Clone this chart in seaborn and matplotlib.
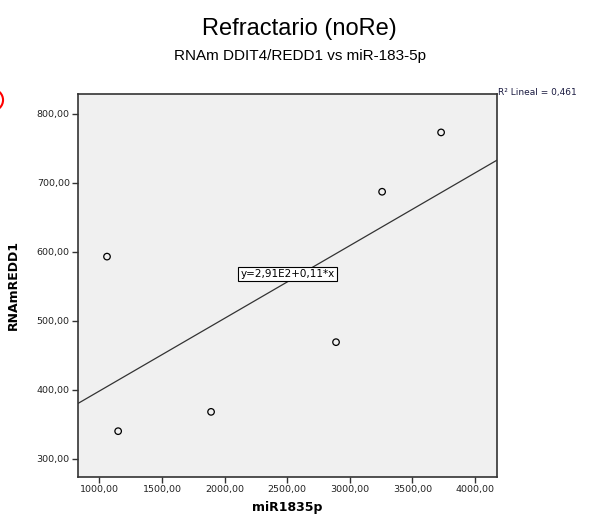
import numpy as np
import pandas as pd
import matplotlib
matplotlib.use("Agg")
import matplotlib.pyplot as plt
import seaborn as sns
from matplotlib.patches import Ellipse

# datos
mir = [1061, 1150, 1892, 2890, 3258, 3729]
redd1 = [593, 340, 368, 469, 687, 773]
xticks = [1000, 1500, 2000, 2500, 3000, 3500, 4000]
yticks = [300, 400, 500, 600, 700, 800]

df = pd.DataFrame({'miR1835p': mir, 'RNAmREDD1': redd1})

sns.set_style("ticks")
plt.rcParams['font.family'] = ['DejaVu Sans']
plt.rcParams['text.color'] = 'black'
plt.rcParams['axes.labelcolor'] = 'black'

fig = plt.figure(figsize=(5.96, 5.21), dpi=100)
ax = fig.add_axes([0.131, 0.085, 0.703, 0.735])
ax.set_facecolor('#f0f0f0')
ax.set_xlim(830, 4176)
ax.set_ylim(274, 829)

sns.scatterplot(data=df, x='miR1835p', y='RNAmREDD1', ax=ax, s=22,
                facecolor='none', edgecolor='black', linewidth=0.9)
sns.regplot(data=df, x='miR1835p', y='RNAmREDD1', ax=ax, scatter=False,
            ci=None, truncate=False, color='#333333', line_kws={'lw': 0.9})
ax.set_xlim(830, 4176)
ax.set_ylim(274, 829)

ax.set_xticks(xticks)
ax.set_yticks(yticks)
ax.set_xticklabels([f"{v:.2f}".replace('.', ',') for v in xticks], fontsize=6.8, color='#222222')
ax.set_yticklabels([f"{v:.2f}".replace('.', ',') for v in yticks], fontsize=6.8, color='#222222')
ax.tick_params(length=4, width=1, color='#333333', pad=2)
for s in ax.spines.values():
    s.set_color('#333333')
    s.set_linewidth(1.2)
    s.set_visible(True)

ax.set_xlabel('miR1835p', fontsize=9, fontweight='bold', labelpad=5)
ax.set_ylabel('RNAmREDD1', fontsize=9, fontweight='bold', labelpad=12)

ax.text(0.5, 0.53, 'y=2,91E2+0,11*x', transform=ax.transAxes, fontsize=7.5,
        ha='center', va='center',
        bbox=dict(boxstyle='square,pad=0.2', fc='white', ec='black', lw=0.8))

fig.text(0.836, 0.823, 'R² Lineal = 0,461', fontsize=6.5, color='#1a1a40', ha='left', va='center')

fig.text(0.503, 0.944, 'Refractario (noRe)', fontsize=17, ha='center', va='center',
         family='Liberation Sans')
fig.text(0.503, 0.892, 'RNAm DDIT4/REDD1 vs miR-183-5p', fontsize=11, ha='center', va='center',
         family='Liberation Sans')

fig.patches.append(Ellipse((-0.0134, 0.808), 0.037, 0.042, transform=fig.transFigure,
                           fill=False, ec='red', lw=1.5))

fig.savefig('out.png', dpi=100)
